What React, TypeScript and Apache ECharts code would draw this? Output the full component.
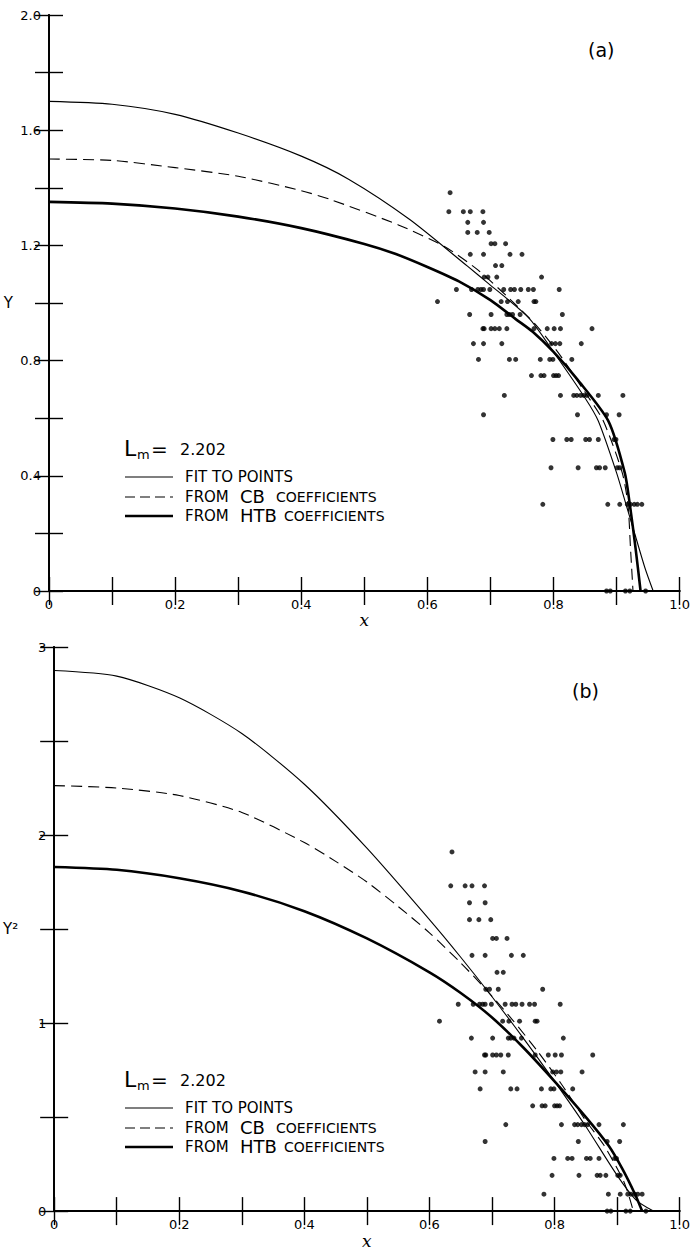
import React, { useEffect, useRef } from "react";
import * as echarts from "echarts";

// ---------- Data: panel (a) Y vs x ----------
const FIT_A_X = [0, 0.1, 0.2, 0.3, 0.4, 0.475, 0.572, 0.664, 0.696, 0.76, 0.8, 0.85, 0.871, 0.9, 0.915, 0.93, 0.945, 0.958];
const FIT_A_Y = [1.70, 1.69, 1.655, 1.59, 1.51, 1.43, 1.29, 1.127, 1.069, 0.95, 0.83, 0.67, 0.59, 0.41, 0.30, 0.19, 0.08, 0];

const CB_A_X = [0, 0.1, 0.2, 0.3, 0.4, 0.448, 0.554, 0.627, 0.68, 0.732, 0.774, 0.81, 0.85, 0.879, 0.909, 0.918, 0.922, 0.926];
const CB_A_Y = [1.50, 1.495, 1.47, 1.44, 1.39, 1.358, 1.271, 1.196, 1.115, 1.011, 0.919, 0.82, 0.69, 0.59, 0.41, 0.30, 0.15, 0];

const HTB_A_X = [0, 0.1, 0.2, 0.3, 0.4, 0.5, 0.55, 0.6, 0.65, 0.7, 0.74, 0.767, 0.8, 0.838, 0.887, 0.913, 0.921, 0.93, 0.938];
const HTB_A_Y = [1.351, 1.345, 1.328, 1.30, 1.26, 1.205, 1.17, 1.125, 1.075, 1.01, 0.944, 0.90, 0.83, 0.734, 0.59, 0.41, 0.30, 0.15, 0];

// ---------- Data: panel (b) Y^2 vs x ----------
const FIT_B_X = [0, 0.1, 0.2, 0.3, 0.4, 0.5, 0.6, 0.65, 0.7, 0.75, 0.8, 0.85, 0.9, 0.93, 0.958];
const FIT_B_Y = [2.875, 2.845, 2.73, 2.54, 2.27, 1.93, 1.55, 1.35, 1.14, 0.92, 0.69, 0.45, 0.19, 0.06, 0];

const CB_B_X = [0, 0.1, 0.2, 0.3, 0.4, 0.45, 0.5, 0.55, 0.6, 0.65, 0.69, 0.732, 0.774, 0.81, 0.85, 0.879, 0.909, 0.918, 0.926];
const CB_B_Y = [2.263, 2.25, 2.21, 2.12, 1.96, 1.86, 1.75, 1.62, 1.48, 1.32, 1.18, 1.02, 0.845, 0.68, 0.48, 0.35, 0.17, 0.09, 0];

const HTB_B_X = [0, 0.1, 0.2, 0.3, 0.4, 0.5, 0.6, 0.65, 0.7, 0.75, 0.8, 0.85, 0.886, 0.908, 0.929, 0.94];
const HTB_B_Y = [1.83, 1.815, 1.77, 1.70, 1.595, 1.45, 1.27, 1.16, 1.03, 0.87, 0.69, 0.50, 0.35, 0.227, 0.087, 0];

// ---------- Scatter points: rows of equal Y (panel a) / Y^2 (panel b) ----------
const ROW_Y = [1.383, 1.317, 1.280, 1.245, 1.206, 1.169, 1.130, 1.090, 1.047, 1.005, 0.960, 0.911, 0.859, 0.804, 0.748, 0.679, 0.612, 0.526, 0.428, 0.301, 0];
const ROW_Y2 = [1.91, 1.73, 1.64, 1.55, 1.45, 1.36, 1.27, 1.18, 1.10, 1.01, 0.92, 0.83, 0.74, 0.65, 0.56, 0.46, 0.37, 0.28, 0.19, 0.09, 0];
const ROW_XS = [
  [0.636],
  [0.634, 0.657, 0.668, 0.688],
  [0.664, 0.689],
  [0.664, 0.679, 0.698],
  [0.701, 0.707, 0.724],
  [0.668, 0.689, 0.731, 0.750],
  [0.708, 0.718],
  [0.690, 0.696, 0.710, 0.781],
  [0.646, 0.670, 0.680, 0.685, 0.689, 0.699, 0.721, 0.732, 0.738, 0.748, 0.760, 0.768, 0.809],
  [0.616, 0.717, 0.727, 0.744, 0.769, 0.772],
  [0.667, 0.701, 0.726, 0.730, 0.735, 0.747, 0.814],
  [0.688, 0.690, 0.701, 0.707, 0.714, 0.726, 0.769, 0.790, 0.801, 0.811, 0.861],
  [0.673, 0.689, 0.718, 0.797, 0.803, 0.810, 0.844],
  [0.681, 0.730, 0.740, 0.779, 0.794, 0.799, 0.829],
  [0.765, 0.780, 0.785, 0.800, 0.804, 0.808],
  [0.722, 0.811, 0.832, 0.837, 0.843, 0.848, 0.853, 0.871, 0.910],
  [0.689, 0.838, 0.884, 0.904],
  [0.799, 0.821, 0.828, 0.851, 0.857, 0.871, 0.896, 0.899],
  [0.796, 0.839, 0.868, 0.873, 0.882, 0.901, 0.905],
  [0.783, 0.886, 0.905, 0.917, 0.922, 0.928, 0.933, 0.940],
  [0.884, 0.890, 0.914, 0.921, 0.946],
];

const LM_TEXT = "2.202";
const LEGEND_FIT = "FIT TO POINTS";
const PANEL_LABELS = ["(a)", "(b)"];

const FONT = '"DejaVu Sans", sans-serif';
const BLACK = "#000";

const pairs = (xs: number[], ys: number[]) => xs.map((x, i) => [x, ys[i]]);
const scatterData = (rowVals: number[]) =>
  ROW_XS.flatMap((xs, i) => xs.map((x) => [x, rowVals[i]]));

const xFmt = (v: number) => {
  const k = Math.round(v * 10);
  if (k % 2 !== 0) return "";
  if (k === 0) return "0";
  return (k / 10).toFixed(1);
};
const yFmtA = (v: number) => {
  const k = Math.round(v * 10);
  if (k % 4 !== 0) return "";
  if (k === 0) return "0";
  return (k / 10).toFixed(1);
};
const yFmtB = (v: number) => {
  const k = Math.round(v * 10);
  if (k % 10 !== 0) return "";
  return String(k / 10);
};

function xAxes(gridIndex: number, nameGap: number) {
  const common = {
    type: "value" as const,
    gridIndex,
    min: 0,
    max: 1,
    interval: 0.1,
    splitLine: { show: false },
    axisLine: { show: true, lineStyle: { color: BLACK, width: 1.8 } },
    axisTick: { show: true, inside: true, length: 14, lineStyle: { color: BLACK, width: 1.4 } },
  };
  return [
    {
      ...common,
      position: "bottom",
      name: "x",
      nameLocation: "middle",
      nameGap,
      nameTextStyle: { fontFamily: '"DejaVu Serif", serif', fontStyle: "italic", fontSize: 17, color: BLACK },
      axisLabel: { show: true, formatter: xFmt, color: BLACK, fontFamily: FONT, fontSize: 13, margin: 7, showMinLabel: true, showMaxLabel: true },
    },
    { ...common, position: "top", axisLabel: { show: false } },
  ];
}

function yAxes(gridIndex: number, max: number, interval: number, fmt: (v: number) => string, name: string) {
  const common = {
    type: "value" as const,
    gridIndex,
    min: 0,
    max,
    interval,
    splitLine: { show: false },
    axisLine: { show: true, lineStyle: { color: BLACK, width: 1.8 } },
    axisTick: { show: true, inside: true, length: 14, lineStyle: { color: BLACK, width: 1.4 } },
  };
  return [
    {
      ...common,
      position: "left",
      name,
      nameLocation: "middle",
      nameGap: 36,
      nameRotate: 0,
      nameTextStyle: { fontFamily: FONT, fontSize: 15, color: BLACK },
      axisLabel: { show: true, formatter: fmt, color: BLACK, fontFamily: FONT, fontSize: 13, margin: 8, showMinLabel: true, showMaxLabel: true },
    },
    { ...common, position: "right", axisLabel: { show: false } },
  ];
}

function lineSeries(data: number[][], xi: number, yi: number, kind: "fit" | "cb" | "htb") {
  const ls: any = { color: BLACK, width: kind === "htb" ? 2.6 : 1.1 };
  if (kind === "cb") ls.type = [11, 6];
  return {
    type: "line",
    xAxisIndex: xi,
    yAxisIndex: yi,
    data,
    showSymbol: false,
    symbol: "none",
    smooth: 0.25,
    lineStyle: ls,
    z: 3,
  };
}

function scatterSeries(data: number[][], xi: number, yi: number) {
  return {
    type: "scatter",
    xAxisIndex: xi,
    yAxisIndex: yi,
    data,
    symbol: "circle",
    symbolSize: 5,
    itemStyle: { color: BLACK },
    clip: false,
    z: 4,
  };
}

function legendGraphics(lmY: number) {
  const r1 = lmY + 29;
  const r2 = lmY + 49;
  const r3 = lmY + 68;
  const t = (x: number, y: number, text: string, size: number) => ({
    type: "text",
    x,
    y,
    silent: true,
    style: { text, fill: BLACK, font: `${size}px ${FONT}`, align: "left", verticalAlign: "middle" },
  });
  const ln = (y: number, width: number, dash?: number[]) => ({
    type: "line",
    silent: true,
    shape: { x1: 125, y1: y, x2: 173, y2: y },
    style: { stroke: BLACK, lineWidth: width, lineDash: dash },
  });
  return [
    t(124, lmY, "L", 22),
    t(137, lmY + 6, "m", 13),
    t(151, lmY + 1, "=", 20),
    t(180, lmY + 1, LM_TEXT, 16),
    ln(r1, 1.1),
    ln(r2, 1.1, [10, 5]),
    ln(r3, 2.6),
    t(185, r1, LEGEND_FIT, 15),
    t(185, r2, "FROM", 15),
    t(240, r2 - 1, "CB", 18),
    t(276, r2, "COEFFICIENTS", 14),
    t(185, r3, "FROM", 15),
    t(240, r3 - 1, "HTB", 18),
    t(284, r3, "COEFFICIENTS", 14),
  ];
}

export default function App() {
  const ref = useRef<HTMLDivElement>(null);

  useEffect(() => {
    const chart = echarts.init(ref.current as HTMLDivElement, null, { renderer: "svg" });
    const option: any = {
      animation: false,
      backgroundColor: "#fff",
      grid: [
        { left: 49, top: 15, width: 634, height: 576 },
        { left: 49, top: 647, width: 634, height: 572 },
      ],
      xAxis: [...xAxes(0, 14), ...xAxes(1, 16)],
      yAxis: [...yAxes(0, 2, 0.2, yFmtA, "Y"), ...yAxes(1, 3, 0.5, yFmtB, "Y²")],
      series: [
        lineSeries(pairs(FIT_A_X, FIT_A_Y), 0, 0, "fit"),
        lineSeries(pairs(CB_A_X, CB_A_Y), 0, 0, "cb"),
        lineSeries(pairs(HTB_A_X, HTB_A_Y), 0, 0, "htb"),
        scatterSeries(scatterData(ROW_Y), 0, 0),
        lineSeries(pairs(FIT_B_X, FIT_B_Y), 2, 2, "fit"),
        lineSeries(pairs(CB_B_X, CB_B_Y), 2, 2, "cb"),
        lineSeries(pairs(HTB_B_X, HTB_B_Y), 2, 2, "htb"),
        scatterSeries(scatterData(ROW_Y2), 2, 2),
      ],
      graphic: [
        ...legendGraphics(448),
        ...legendGraphics(1079),
        {
          type: "text",
          x: 588,
          y: 50,
          silent: true,
          style: { text: PANEL_LABELS[0], fill: BLACK, font: `19px ${FONT}`, align: "left", verticalAlign: "middle" },
        },
        {
          type: "text",
          x: 572,
          y: 691,
          silent: true,
          style: { text: PANEL_LABELS[1], fill: BLACK, font: `19px ${FONT}`, align: "left", verticalAlign: "middle" },
        },
      ],
    };
    chart.setOption(option);
    return () => chart.dispose();
  }, []);

  return (
    <div
      ref={ref}
      style={{ position: "absolute", left: 0, top: 0, width: 693, height: 1250, background: "#fff" }}
    />
  );
}
